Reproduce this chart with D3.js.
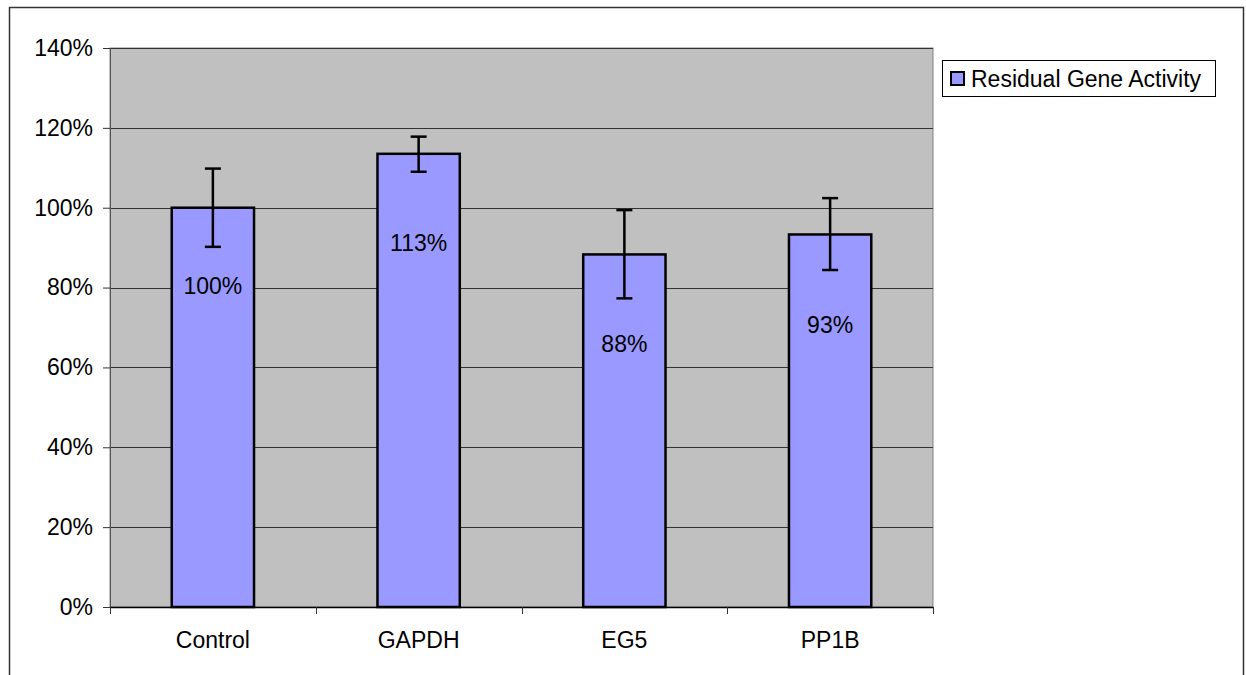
<!DOCTYPE html>
<html>
<head>
<meta charset="utf-8">
<script src="https://cdn.jsdelivr.net/npm/d3@7/dist/d3.min.js"></script>
<style>
  html, body { margin: 0; padding: 0; background: #fff; }
  svg { display: block; font-family: "Liberation Sans", Arial, sans-serif; }
</style>
</head>
<body>
<svg id="chart" width="1246" height="675"></svg>
<script>
// ---- data ----
const categories = ["Control", "GAPDH", "EG5", "PP1B"];
const values = [100.0, 113.5, 88.3, 93.3];          // %
const errUpper = [109.8, 117.8, 99.4, 102.4];       // %
const errLower = [90.2, 109.0, 77.3, 84.4];         // %
const valueLabels = ["100%", "113%", "88%", "93%"];
const labelAt = [80.5, 91.3, 65.9, 70.6];           // label centre, in % units
const yTicks = [0, 20, 40, 60, 80, 100, 120, 140];
const seriesName = "Residual Gene Activity";

// ---- layout ----
const FS = 23;
const svg = d3.select("#chart");
const plot = { left: 110, top: 48, right: 933, bottom: 607 };

// outer chart border
svg.append("rect")
  .attr("x", 9.5).attr("y", 7.5)
  .attr("width", 1234).attr("height", 700)
  .attr("fill", "#fff").attr("stroke", "#333").attr("stroke-width", 1.5);

const x = d3.scaleBand().domain(categories)
  .range([plot.left, plot.right]).paddingInner(0.6).paddingOuter(0.3);
const xOuter = d3.scaleBand().domain(categories).range([plot.left, plot.right]);
const y = d3.scaleLinear().domain([0, 140]).range([plot.bottom, plot.top]);

// plot background
svg.append("rect")
  .attr("x", plot.left).attr("y", plot.top)
  .attr("width", plot.right - plot.left).attr("height", plot.bottom - plot.top)
  .attr("fill", "#C0C0C0").attr("stroke", "#808080").attr("stroke-width", 1);

// gridlines
svg.append("g").selectAll("line").data(yTicks.filter(d => d > 0)).join("line")
  .attr("x1", plot.left).attr("x2", plot.right)
  .attr("y1", d => Math.round(y(d)) + 0.5).attr("y2", d => Math.round(y(d)) + 0.5)
  .attr("stroke", "#333").attr("stroke-width", 1);

// y axis
const yAxis = d3.axisLeft(y).tickValues(yTicks).tickFormat(d => d + "%").tickSize(7).tickPadding(10);
const gy = svg.append("g").attr("transform", `translate(${plot.left},0)`).call(yAxis);
gy.select(".domain").attr("stroke", "#555");
gy.selectAll(".tick line").attr("stroke", "#333");
gy.selectAll("text").attr("font-size", FS).attr("fill", "#000")
  .attr("font-family", "Liberation Sans, Arial, sans-serif");

// x axis (category boundary ticks)
svg.append("line")
  .attr("x1", plot.left).attr("x2", plot.right)
  .attr("y1", plot.bottom + 0.5).attr("y2", plot.bottom + 0.5)
  .attr("stroke", "#000").attr("stroke-width", 1.5);
const boundaries = categories.map(c => xOuter(c)).concat([plot.right]);
svg.append("g").selectAll("line").data(boundaries).join("line")
  .attr("x1", d => Math.round(d) + 0.5).attr("x2", d => Math.round(d) + 0.5)
  .attr("y1", plot.bottom).attr("y2", plot.bottom + 7)
  .attr("stroke", "#333").attr("stroke-width", 1);
svg.append("g").selectAll("text").data(categories).join("text")
  .attr("x", d => xOuter(d) + xOuter.bandwidth() / 2)
  .attr("y", 640).attr("dy", "0.35em")
  .attr("text-anchor", "middle").attr("font-size", FS).attr("fill", "#000")
  .text(d => d);

// bars
svg.append("g").selectAll("rect").data(categories).join("rect")
  .attr("x", d => x(d)).attr("width", x.bandwidth())
  .attr("y", (d, i) => y(values[i]))
  .attr("height", (d, i) => y(0) - y(values[i]))
  .attr("fill", "#9999FF").attr("stroke", "#000").attr("stroke-width", 2.5);

// error bars
const eb = svg.append("g").attr("stroke", "#000").attr("stroke-width", 2.5);
categories.forEach((c, i) => {
  const cx = x(c) + x.bandwidth() / 2;
  eb.append("line").attr("x1", cx).attr("x2", cx)
    .attr("y1", y(errUpper[i])).attr("y2", y(errLower[i]));
  [errUpper[i], errLower[i]].forEach(v => {
    eb.append("line").attr("x1", cx - 8).attr("x2", cx + 8)
      .attr("y1", y(v)).attr("y2", y(v));
  });
});

// value labels
svg.append("g").selectAll("text").data(categories).join("text")
  .attr("x", d => x(d) + x.bandwidth() / 2)
  .attr("y", (d, i) => y(labelAt[i])).attr("dy", "0.35em")
  .attr("text-anchor", "middle").attr("font-size", FS).attr("fill", "#000")
  .text((d, i) => valueLabels[i]);

// legend
const lg = svg.append("g");
lg.append("rect").attr("x", 942.5).attr("y", 60.5).attr("width", 273).attr("height", 36)
  .attr("fill", "#fff").attr("stroke", "#000").attr("stroke-width", 1);
lg.append("rect").attr("x", 951).attr("y", 72).attr("width", 13).attr("height", 13)
  .attr("fill", "#9999FF").attr("stroke", "#000").attr("stroke-width", 2);
lg.append("text").attr("x", 971).attr("y", 78.5).attr("dy", "0.35em")
  .attr("font-size", FS).attr("fill", "#000").text(seriesName);
</script>
</body>
</html>
